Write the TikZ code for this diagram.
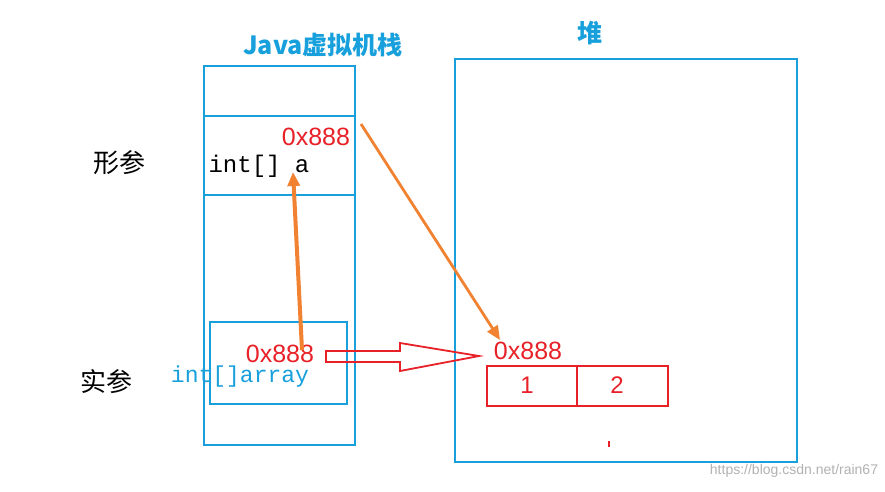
\documentclass[tikz,border=0pt]{standalone}
\usepackage{fontspec}
\setmainfont{Liberation Sans}
\newfontfamily\cjk{Noto Sans CJK SC}
\newfontfamily\mono{Liberation Mono}
\usetikzlibrary{arrows.meta}
\definecolor{jblue}{RGB}{24,160,220}
\definecolor{jred}{RGB}{232,32,40}
\definecolor{jorange}{RGB}{240,130,50}
\begin{document}
\begin{tikzpicture}[x=1pt,y=-1pt,
  box/.style={draw=jblue,line width=1.8pt},
  rbox/.style={draw=jred,line width=1.8pt},
  redt/.style={text=jred,font=\fontsize{25}{25}\selectfont},
  oarrow/.style={draw=jorange,line width=4pt,-{Triangle[length=14pt,width=12pt]}}]
\useasboundingbox (0,0) rectangle (885,491);
\fill[white] (0,0) rectangle (885,491);
\node[text=jblue,font=\cjk\bfseries\fontsize{25}{25}\selectfont] (t1) at (323,45) {Java虚拟机栈};
\node[text=jblue,font=\cjk\bfseries\fontsize{25}{25}\selectfont] (t2) at (590,33) {堆};
\draw[box] (204,66) rectangle (355,445);
\draw[box] (204,116) -- (355,116);
\draw[box] (204,195) -- (355,195);
\draw[box] (455,59) rectangle (797,462);
\node[font=\cjk\fontsize{26}{26}\selectfont] (f) at (119,163) {形参};
\node[font=\cjk\fontsize{26}{26}\selectfont] (s) at (106,382) {实参};
\node[redt] (a1) at (316,137) {0x888};
\node[font=\mono\fontsize{24}{24}\selectfont] (ia) at (259,166) {int[] a};
\draw[box] (210,322) rectangle (347,404);
\node[redt,inner sep=1pt] (a2) at (280,354) {0x888};
\node[text=jblue,font=\mono\fontsize{23}{23}\selectfont,inner sep=1pt] (iarr) at (240,377) {int[]array};
\draw[rbox] (487,366) rectangle (668,406);
\draw[rbox] (577,366) -- (577,406);
\node[text=jred,font=\fontsize{24}{24}\selectfont] (v1) at (527,385) {1};
\node[text=jred,font=\fontsize{24}{24}\selectfont] (v2) at (617,385) {2};
\node[redt] (a3) at (528,351) {0x888};
\draw[jred,line width=2pt] (609,441) -- (609,447);
\coordinate (o1s) at (302,350);
\coordinate (o1e) at (293,172);
\draw[oarrow] (o1s) -- (o1e);
\coordinate (o2s) at (361,124);
\coordinate (o2e) at (500,340);
\draw[oarrow,line width=2.8pt] (o2s) -- (o2e);
\draw[jred,line width=1.8pt] (326,351) -- (400,351) -- (400,343) -- (479,356) -- (400,371) -- (400,362) -- (326,362) -- cycle;
\node[text=gray!60,font=\fontsize{14}{14}\selectfont] (w) at (794,471) {https://blog.csdn.net/rain67};
\end{tikzpicture}
\end{document}
